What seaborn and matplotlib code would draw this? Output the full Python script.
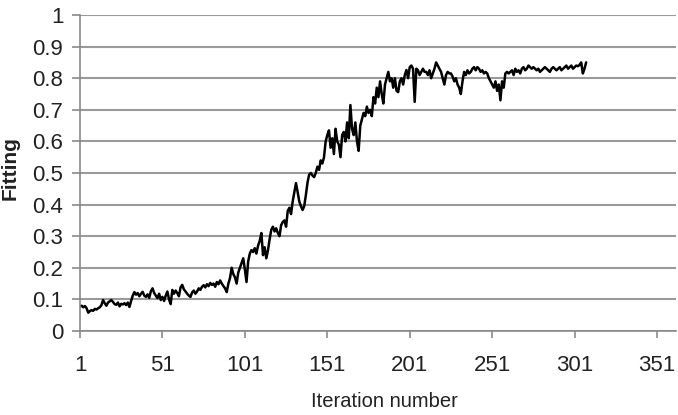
import matplotlib
matplotlib.use("Agg")
import matplotlib.pyplot as plt
import seaborn as sns
import pandas as pd
import numpy as np

fitting = [
    0.078, 0.080, 0.075, 0.079, 0.072, 0.058, 0.063, 0.066, 0.064, 0.070,
    0.068, 0.072, 0.075, 0.082, 0.098, 0.088, 0.080, 0.090, 0.094, 0.098,
    0.092, 0.085, 0.083, 0.090, 0.078, 0.086, 0.084, 0.088, 0.082, 0.090,
    0.076, 0.095, 0.112, 0.123, 0.115, 0.120, 0.110, 0.118, 0.124, 0.112,
    0.108, 0.116, 0.105, 0.126, 0.135, 0.120, 0.112, 0.104, 0.118, 0.098,
    0.108, 0.095, 0.112, 0.125, 0.100, 0.085, 0.130, 0.118, 0.128, 0.120,
    0.110, 0.138, 0.146, 0.132, 0.125, 0.118, 0.112, 0.108, 0.122, 0.128,
    0.118, 0.125, 0.135, 0.130, 0.140, 0.145, 0.138, 0.148, 0.142, 0.152,
    0.146, 0.150, 0.140, 0.155, 0.148, 0.160, 0.150, 0.142, 0.135, 0.123,
    0.150, 0.168, 0.200, 0.180, 0.170, 0.150, 0.185, 0.200, 0.215, 0.230,
    0.195, 0.155, 0.220, 0.245, 0.256, 0.250, 0.262, 0.245, 0.270, 0.285,
    0.310, 0.240, 0.265, 0.230, 0.255, 0.290, 0.320, 0.330, 0.315, 0.325,
    0.310, 0.300, 0.335, 0.345, 0.350, 0.330, 0.380, 0.390, 0.370, 0.410,
    0.440, 0.468, 0.440, 0.410, 0.395, 0.383, 0.395, 0.430, 0.470, 0.495,
    0.500, 0.492, 0.487, 0.500, 0.520, 0.510, 0.540, 0.530, 0.550, 0.600,
    0.620, 0.635, 0.580, 0.610, 0.560, 0.640, 0.600, 0.590, 0.550, 0.620,
    0.630, 0.600, 0.660, 0.610, 0.715, 0.640, 0.620, 0.660, 0.600, 0.570,
    0.650, 0.670, 0.690, 0.680, 0.710, 0.690, 0.700, 0.680, 0.740, 0.720,
    0.770, 0.740, 0.790, 0.750, 0.720, 0.780, 0.800, 0.820, 0.790, 0.800,
    0.770, 0.800, 0.760, 0.756, 0.790, 0.800, 0.780, 0.810, 0.826, 0.800,
    0.835, 0.840, 0.830, 0.725, 0.830, 0.825, 0.810, 0.820, 0.830, 0.820,
    0.820, 0.810, 0.825, 0.800, 0.815, 0.830, 0.850, 0.840, 0.830, 0.820,
    0.800, 0.780, 0.810, 0.820, 0.815, 0.815, 0.805, 0.790, 0.800, 0.780,
    0.770, 0.750, 0.790, 0.820, 0.810, 0.825, 0.815, 0.820, 0.830, 0.835,
    0.825, 0.835, 0.830, 0.820, 0.825, 0.815, 0.820, 0.815, 0.800, 0.790,
    0.780, 0.770, 0.790, 0.760, 0.780, 0.730, 0.790, 0.770, 0.815, 0.820,
    0.815, 0.820, 0.825, 0.810, 0.830, 0.820, 0.825, 0.815, 0.830, 0.835,
    0.825, 0.830, 0.840, 0.835, 0.830, 0.835, 0.830, 0.825, 0.830, 0.820,
    0.825, 0.830, 0.835, 0.830, 0.825, 0.820, 0.830, 0.835, 0.830, 0.825,
    0.830, 0.835, 0.825, 0.830, 0.835, 0.840, 0.830, 0.835, 0.840, 0.830,
    0.835, 0.840, 0.838, 0.842, 0.850, 0.815, 0.830, 0.850,
]
iterations = list(range(1, len(fitting) + 1))
x_ticks = [1, 51, 101, 151, 201, 251, 301, 351]
y_ticks = [0, 0.1, 0.2, 0.3, 0.4, 0.5, 0.6, 0.7, 0.8, 0.9, 1]
y_tick_labels = ["0", "0.1", "0.2", "0.3", "0.4", "0.5", "0.6", "0.7", "0.8", "0.9", "1"]

sns.set_style("white")
plt.rcParams["font.family"] = ["Liberation Sans", "DejaVu Sans"]

df = pd.DataFrame({"Iteration": iterations, "Fitting": fitting})

fig = plt.figure(figsize=(6.78, 4.15), dpi=100)
ax = fig.add_axes([80 / 678, 1 - 331 / 415, (676 - 80) / 678, (331 - 15) / 415])

sns.lineplot(data=df, x="Iteration", y="Fitting", ax=ax, color="black", linewidth=1.8)

ax.set_xlim(1, 362.5)
ax.set_ylim(0, 1)
ax.set_xticks(x_ticks)
ax.set_xticklabels([str(t) for t in x_ticks])
ax.set_yticks(y_ticks)
ax.set_yticklabels(y_tick_labels)

ax.yaxis.grid(True, color="#9a9a9a", linewidth=1.5)
ax.xaxis.grid(False)
ax.set_axisbelow(True)

for s in ["top", "right"]:
    ax.spines[s].set_visible(False)
for s in ["left", "bottom"]:
    ax.spines[s].set_color("#8a8a8a")
    ax.spines[s].set_linewidth(1.2)

ax.tick_params(axis="y", length=6, width=1.2, color="#8a8a8a", pad=6,
               labelsize=16, labelcolor="#222222", left=True)
ax.tick_params(axis="x", length=5, width=1.2, color="#8a8a8a", pad=12,
               labelsize=16, labelcolor="#222222", bottom=True)

ax.set_xlabel("Iteration number", fontsize=14.5, color="#222222")
ax.set_ylabel("Fitting", fontsize=15, fontweight="bold", color="#222222")
ax.xaxis.set_label_coords((384 - 80) / (676 - 80), -(392 - 331) / 316)
ax.yaxis.set_label_coords(-(80 - 20) / 596, (331 - 168) / 316)

fig.savefig("out.png", dpi=100)
